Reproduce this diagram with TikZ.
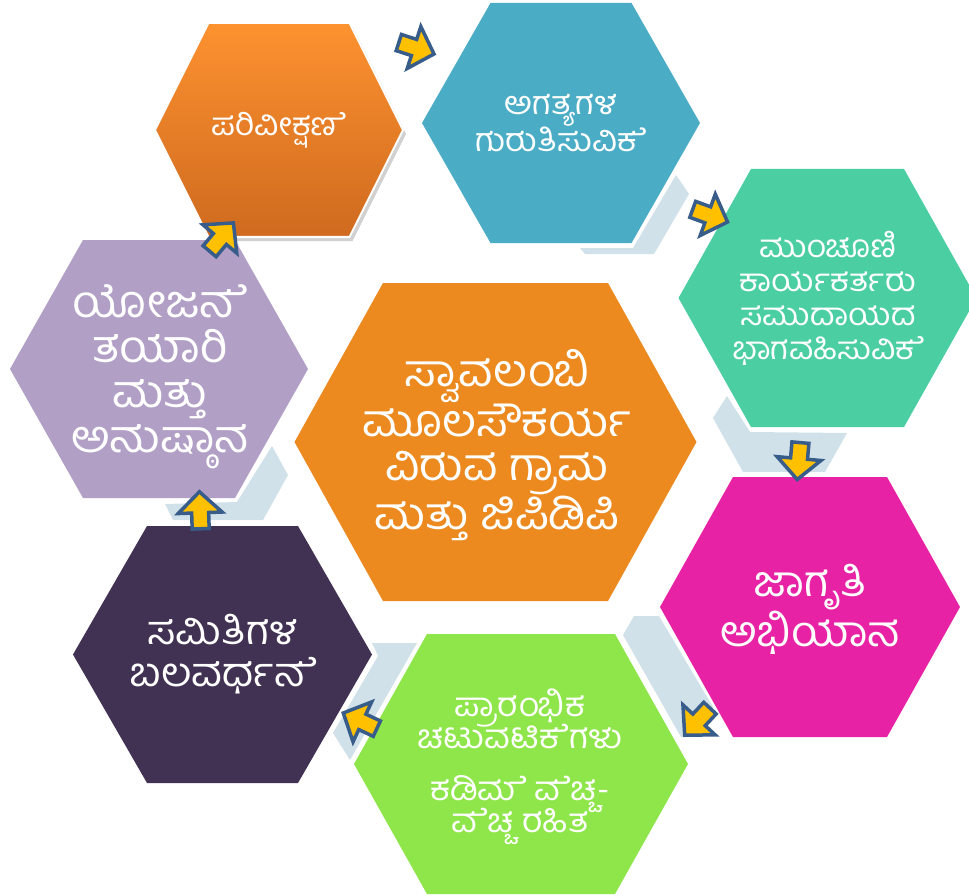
\documentclass[tikz,border=0pt]{standalone}
\usepackage{fontspec}
\newfontfamily\kn[Script=Kannada, FakeStretch=1.06]{Hind Mysuru}
\newcommand\esign{\XeTeXglyph354\relax}
\definecolor{orTop}{HTML}{FD9230}
\definecolor{orBot}{HTML}{CF6A1F}
\definecolor{hexBlue}{HTML}{4BACC6}
\definecolor{hexMint}{HTML}{4BCFA2}
\definecolor{hexMagenta}{HTML}{E722A4}
\definecolor{hexLime}{HTML}{8FE64B}
\definecolor{hexPlum}{HTML}{413152}
\definecolor{hexLav}{HTML}{B19FC6}
\definecolor{hexCore}{HTML}{EC8A1F}
\definecolor{bandGray}{HTML}{D0E1E9}
\definecolor{arrYellow}{HTML}{FFC000}
\definecolor{arrBlue}{HTML}{385D8A}
\newcommand\hexpath[5]{({#1-#3},{#2}) -- ({#1-#4},{#2-#5}) -- ({#1+#4},{#2-#5}) -- ({#1+#3},{#2}) -- ({#1+#4},{#2+#5}) -- ({#1-#4},{#2+#5}) -- cycle}
\newcommand\blkarrow[3]{\begin{scope}[shift={(#1,#2)},rotate=#3]
\draw[arrowsty] (0,0) -- (-21,-22) -- (-21,-8.5) -- (-37,-8.5) -- (-37,8.5) -- (-21,8.5) -- (-21,22) -- cycle;
\end{scope}}
\begin{document}
\begin{tikzpicture}[x=1pt,y=-1pt,
  band/.style={fill=bandGray},
  lbl/.style={text=white, align=center, inner sep=0pt},
  arrowsty/.style={fill=arrYellow, draw=arrBlue, line width=3.5pt, line join=miter}]
\useasboundingbox (0,0) rectangle (969,896);
\clip (0,0) rectangle (969,896);
\fill[white] (0,0) rectangle (969,896);
% connector bands
\fill[band] (676,175) -- (689,194) -- (654,254) -- (585,254) -- (580,248) -- (633,248) -- cycle;
\fill[band] (727,396) -- (750,432) -- (847,433) -- (825,472) -- (743,472) -- (713,418) -- cycle;
\fill[band] (623,635) -- (634,616) -- (659,616) -- (713,707) -- (700,737) -- (681,737) -- cycle;
\fill[band] (372,643) -- (417,643) -- (350,760) -- (333,733) -- (378,656) -- cycle;
\fill[band] (272,446) -- (288,475) -- (263,520) -- (173,520) -- (165,504) -- (237,502) -- cycle;
% hexagons
\fill[black, opacity=0.18] [shift={(3,4)}] \hexpath{279}{130}{124}{70.5}{107};
\shade[top color=orTop, bottom color=orBot, draw=white, line width=2pt] \hexpath{279}{130}{124}{70.5}{107};
\fill[hexBlue] \hexpath{561}{123}{139}{70.5}{120};
\fill[hexMint] \hexpath{827.5}{298}{149}{76.5}{129};
\fill[hexMagenta] \hexpath{810}{607}{150}{77}{130};
\fill[hexLime] \hexpath{521}{764}{167}{94}{130};
\fill[hexPlum] \hexpath{222.5}{654.5}{149.5}{75.5}{128.5};
\fill[hexLav] \hexpath{159}{369}{149}{76}{129};
\fill[hexCore] \hexpath{495.5}{442}{201}{112.5}{159};
% labels
\node[lbl, font={\kn\fontsize{31.5}{32}\selectfont}] (t1) at (279,130) {ಪರಿವೀಕ್ಷಣ\esign{}};
\node[lbl, font={\kn\fontsize{32.4}{37}\selectfont}] (t2) at (561,123) {ಅಗತ್ಯಗಳ\\ಗುರುತಿಸುವಿಕ\esign{}};
\node[lbl, font={\kn\fontsize{31.5}{34}\selectfont}] (t3) at (828,298) {ಮುಂಚೂಣಿ\\ಕಾರ್ಯಕರ್ತರು\\ಸಮುದಾಯದ\\ಭಾಗವಹಿಸುವಿಕ\esign{}};
\node[lbl, font={\kn\fontsize{42.6}{42}\selectfont}] (t4) at (810,609) {ಜಾಗೃತಿ\\ಅಭಿಯಾನ};
\node[lbl, font={\kn\fontsize{33.3}{32}\selectfont\lineskiplimit=-100pt}] (t5) at (520,767) {ಪ್ರಾರಂಭಿಕ\\ಚಟುವಟಿಕ\esign{}ಗಳು\\[20pt]ಕಡಿಮ\esign{} ವ\esign{}ಚ್ಚ-\\ವ\esign{}ಚ್ಚ ರಹಿತ};
\node[lbl, font={\kn\fontsize{40}{42}\selectfont}] (t6) at (223,654) {ಸಮಿತಿಗಳ\\ಬಲವರ್ಧನ\esign{}};
\node[lbl, font={\kn\fontsize{45}{45}\selectfont}] (t7) at (160,377) {ಯೋಜನ\esign{}\\ತಯಾರಿ\\ಮತ್ತು\\ಅನುಷ್ಠಾನ};
\node[lbl, font={\kn\fontsize{44.6}{44}\selectfont}] (t8) at (497,445) {ಸ್ವಾವಲಂಬಿ\\ಮೂಲಸೌಕರ್ಯ\\ವಿರುವ ಗ್ರಾಮ\\ಮತ್ತು ಜಿಪಿಡಿಪಿ};
% block arrows
\blkarrow{434}{54}{-18}
\blkarrow{727.5}{222}{-20}
\blkarrow{797.2}{479.5}{-95}
\blkarrow{684.7}{735.2}{227}
\blkarrow{343.3}{713}{155}
\blkarrow{199.4}{491.8}{92}
\blkarrow{233.4}{222.9}{50}
\end{tikzpicture}
\end{document}
